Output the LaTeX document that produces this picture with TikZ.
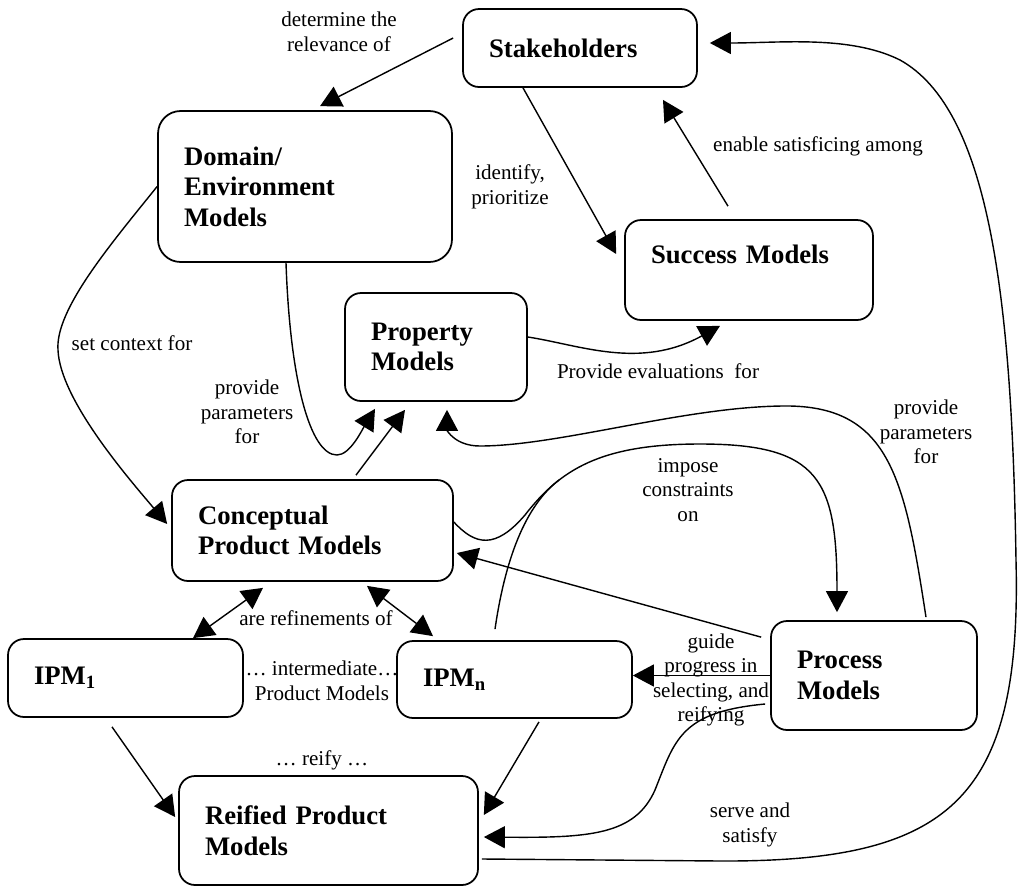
\documentclass[tikz,border=0pt]{standalone}
\usepackage{fontspec}
\setmainfont{Liberation Serif}
\usetikzlibrary{arrows.meta}
\newcommand{\boxfont}{\fontsize{15.2}{17.4}\selectfont\bfseries}
\newcommand{\lblfont}{\fontsize{12}{14}\selectfont}

\begin{document}
\begin{tikzpicture}[x=0.02cm, y=-0.02cm, line width=0.8pt,
    >={Triangle[length=0.42cm, width=0.44cm]},
    model/.style={draw, line width=1pt, rounded corners=0.32cm, align=left, font=\boxfont,
      inner xsep=0.52cm, inner ysep=0pt},
    lbl/.style={font=\lblfont, align=center, inner sep=0pt}]
  \useasboundingbox (0,0) rectangle (1019,887);
  % models
  \node[model, minimum width=4.68cm, minimum height=1.56cm, text width=3.64cm] (stake) at (580,48) {Stakeholders};
  \node[model, rounded corners=0.45cm, minimum width=5.88cm, minimum height=3.02cm, text width=4.84cm] (domain) at (305,186.5) {Domain/\\Environment\\Models};
  \node[model, minimum width=4.96cm, minimum height=2cm, text width=3.92cm] (succ) at (749,270) {Success Models\\~};
  \node[model, minimum width=3.64cm, minimum height=2.16cm, text width=2.6cm] (prop) at (436,347) {Property\\Models};
  \node[model, minimum width=5.62cm, minimum height=2.02cm, text width=4.58cm] (concept) at (312.5,530.5) {Conceptual\\Product Models};
  \node[model, minimum width=4.7cm, minimum height=1.56cm, text width=3.66cm] (ipm1) at (125.5,678) {IPM\textsubscript{1}};
  \node[model, minimum width=4.7cm, minimum height=1.54cm, text width=3.66cm] (ipmn) at (514.5,679.5) {IPM\textsubscript{n}};
  \node[model, minimum width=5.98cm, minimum height=2.18cm, text width=4.94cm] (reif) at (328.5,830.5) {Reified Product\\Models};
  \node[model, minimum width=4.12cm, minimum height=2.18cm, text width=3.08cm] (proc) at (874,675.5) {Process\\Models};

  % connectors
  \draw[->] ([xshift=-0.18cm, yshift=0.2cm]stake.west) -- ([xshift=0.3cm, yshift=0.08cm]domain.north);
  \draw[->] ([xshift=-1.14cm]stake.south) -- ([xshift=-0.16cm, yshift=0.32cm]succ.west);
  \draw[->] ([xshift=-0.42cm, yshift=0.26cm]succ.north) -- ([xshift=1.66cm, yshift=-0.24cm]stake.south);
  \draw[->] (domain.west) .. controls (110,245) and (55,310) .. (58,350)
     .. controls (60,400) and (130,480) .. ([xshift=-0.08cm, yshift=0.13cm]concept.west);
  \draw[->] ([xshift=-0.38cm]domain.south) .. controls (290,380) and (310,455) .. (337,455)
     .. controls (350,455) and (362,430) .. ([xshift=-1.22cm, yshift=-0.14cm]prop.south);
  \draw[->] ([xshift=0.87cm, yshift=0.08cm]concept.north) -- ([xshift=-0.62cm, yshift=-0.16cm]prop.south);
  \draw[->] ([yshift=0.2cm]prop.east) .. controls (580,345) and (640,370) .. ([xshift=-0.58cm, yshift=-0.1cm]succ.south);
  \draw[<->] ([xshift=1.35cm]ipm1.north) -- ([xshift=-0.99cm, yshift=-0.12cm]concept.south);
  \draw[<->] ([xshift=1.09cm, yshift=-0.08cm]concept.south) -- ([xshift=-1.63cm, yshift=0.08cm]ipmn.north);
  \draw[->] ([xshift=-0.27cm, yshift=-0.18cm]ipm1.south) -- ([xshift=-0.06cm, yshift=0.27cm]reif.west);
  \draw[->] ([xshift=0.49cm, yshift=-0.06cm]ipmn.south) -- ([xshift=0.1cm, yshift=0.31cm]reif.east);
  \draw[->] ([yshift=0.17cm]concept.east) .. controls (475,545) and (495,550) .. (525,515)
     .. controls (560,470) and (600,444) .. (700,444)
     .. controls (820,444) and (837,480) .. ([xshift=-0.74cm, yshift=0.16cm]proc.north);
  \draw ([xshift=-0.39cm, yshift=0.22cm]ipmn.north) .. controls (505,560) and (525,506) .. (559,480);
  \draw[->] (proc.west) -- (proc.west -| ipmn.east);
  \draw[->] ([xshift=-0.18cm, yshift=-0.34cm]proc.north west) -- ([xshift=0.06cm, yshift=-0.45cm]concept.east);
  \draw[->] ([xshift=1.04cm, yshift=0.06cm]proc.north) .. controls (905,480) and (890,408) .. (790,406)
     .. controls (690,405) and (560,446) .. (480,446)
     .. controls (455,446) and (447,430) .. ([xshift=0.22cm, yshift=-0.16cm]prop.south);
  \draw[->] ([xshift=-0.1cm, yshift=-0.57cm]proc.west) .. controls (680,712) and (675,740) .. (655,790)
     .. controls (635,835) and (590,838) .. ([xshift=0.1cm, yshift=-0.13cm]reif.east);
  \draw[->] ([xshift=0.06cm, yshift=-0.57cm]reif.east) -- (720,861)
     .. controls (950,862) and (1022,800) .. (1016,560)
     .. controls (1012,300) and (990,110) .. (900,60)
     .. controls (850,35) and (780,43) .. ([xshift=0.24cm, yshift=0.1cm]stake.east);

  % labels
  \node[lbl] (l-rel) at (339,32) {determine the\\relevance of};
  \node[lbl] (l-idf) at (510,187) {identify,\\prioritize};
  \node[lbl] (l-sat) at (818,146) {enable satisficing among};
  \node[lbl] (l-ctx) at (132,343) {set context for};
  \node[lbl] (l-par1) at (247,412) {provide\\parameters\\for};
  \node[lbl] (l-eval) at (658,371) {Provide evaluations\ \ for};
  \node[lbl] (l-par2) at (926,432) {provide\\parameters\\for};
  \node[lbl] (l-imp) at (688,490) {impose\\constraints\\on};
  \node[lbl] (l-ref) at (316,618) {are refinements of};
  \node[lbl] (l-int) at (322,681) {… intermediate…\\Product Models};
  \node[lbl] (l-rei) at (322,760) {… reify …};
  \node[lbl] (l-gui) at (711,680) {guide\\progress in\\selecting, and\\reifying};
  \node[lbl] (l-srv) at (750,825) {serve and\\satisfy};
\end{tikzpicture}
\end{document}
